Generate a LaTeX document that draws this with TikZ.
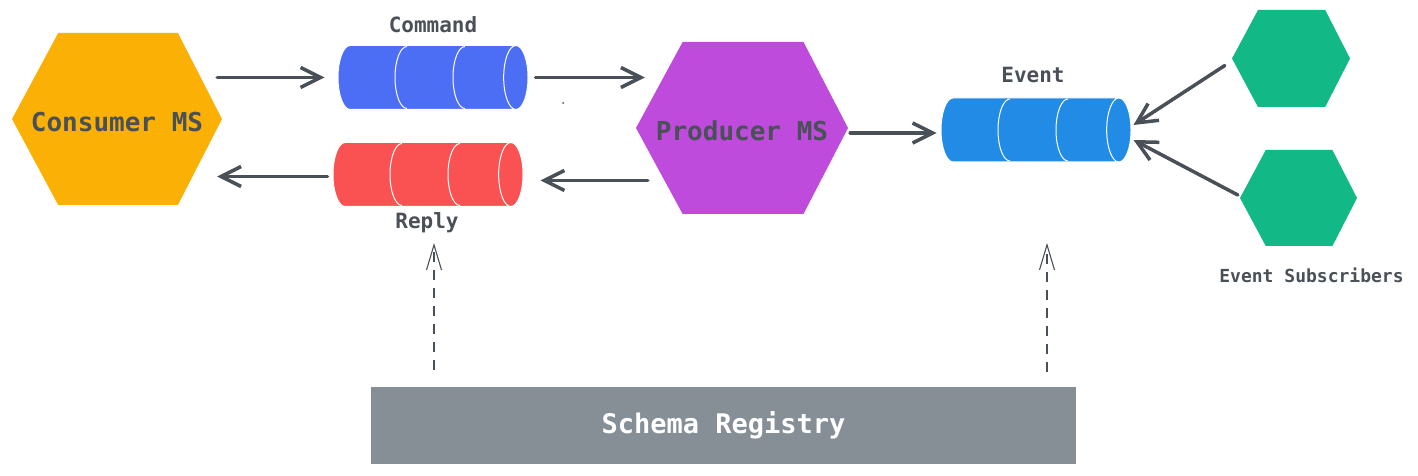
\documentclass[tikz,border=0pt]{standalone}
\usepackage{fontspec}
\newfontfamily\diagfont{DejaVu Sans Mono}
\usetikzlibrary{shapes.geometric, positioning, calc, arrows.meta}
\definecolor{msOrange}{HTML}{FAB005}
\definecolor{msGrape}{HTML}{BE4BDB}
\definecolor{msTeal}{HTML}{12B886}
\definecolor{qIndigo}{HTML}{4C6EF5}
\definecolor{qRed}{HTML}{FA5252}
\definecolor{qBlue}{HTML}{228BE6}
\definecolor{regGray}{HTML}{868E96}
\definecolor{inkGray}{HTML}{495057}
\tikzset{hexcol/.store in=\hexcol, hexcol=msOrange}

\begin{document}
\begin{tikzpicture}[
    x=1pt, y=1pt,
    hexa/.style={inner sep=0pt, text=inkGray, text height=25pt, font=\diagfont\bfseries\fontsize{26}{32}\selectfont,
      path picture={
        \fill[fill=\hexcol] (path picture bounding box.west)
          -- ($(path picture bounding box.north west)!0.22!(path picture bounding box.north east)$)
          -- ($(path picture bounding box.north west)!0.79!(path picture bounding box.north east)$)
          -- (path picture bounding box.east)
          -- ($(path picture bounding box.south west)!0.79!(path picture bounding box.south east)$)
          -- ($(path picture bounding box.south west)!0.22!(path picture bounding box.south east)$)
          -- cycle;}},
    queue/.style={cylinder, shape aspect=0.38, draw=white, line width=1pt, inner xsep=0pt, inner ysep=32pt, minimum height=190pt, anchor=shape center},
    seg/.style={draw=white, line width=1pt},
    qlabel/.style={inner sep=0pt, text=inkGray, font=\diagfont\bfseries\fontsize{21}{26}\selectfont},
    flow/.style={draw=inkGray, line width=3.5pt, line cap=round, -{Straight Barb[length=20pt,width=20pt]}},
    schemalink/.style={draw=inkGray, line width=1.1pt, dash pattern=on 10pt off 8pt, -{Straight Barb[length=25pt,width=15pt]}},
    registry/.style={fill=regGray, minimum width=705pt, minimum height=77pt, inner sep=0pt, text=white, font=\diagfont\bfseries\fontsize{27}{32}\selectfont}
  ]
  \useasboundingbox (0,0) rectangle (1418,476);

  % services
  \node[hexa, hexcol=msOrange, minimum width=210pt, minimum height=172pt] (cons) at (117,357) {Consumer MS};
  \node[hexa, hexcol=msGrape, minimum width=212pt, minimum height=172pt] (prod) at (742,348) {Producer MS};
  \node[hexa, hexcol=msTeal, minimum width=118pt, minimum height=97pt] (sub1) at (1291,417.5) {};
  \node[hexa, hexcol=msTeal, minimum width=117pt, minimum height=96pt] (sub2) at (1298.5,278) {};

  % queues
  \node[queue, fill=qIndigo] (cmd) at (433,398.5) {};
  \node[queue, fill=qRed] (reply) at (428,301.5) {};
  \node[queue, fill=qBlue] (evt) at (1036,346) {};
  \foreach \q in {cmd, reply, evt}
    \foreach \dx in {-26, 32}
      \draw[seg] ([xshift=\dx pt, yshift=31pt]\q.shape center) arc[start angle=90, end angle=270, x radius=12pt, y radius=31pt];

  \node[qlabel, anchor=south] (cmdlbl) at ($(cmd.shape center)+(0,44)$) {Command};
  \node[qlabel, anchor=north] (replylbl) at ($(reply.shape center)+(-1,-38)$) {Reply};
  \node[qlabel, anchor=south] (evtlbl) at ($(evt.shape center)+(-3,47)$) {Event};
  \node[qlabel, font=\diagfont\bfseries\fontsize{18}{22}\selectfont, below=21pt of sub2, xshift=13pt] (sublbl) {Event Subscribers};

  \node[registry] (reg) at (723.5,50.5) {Schema Registry};

  % connectors
  \draw[flow] ($(cons.east |- cmd.west)+(-5,0)$) -- ($(cmd.west)+(-13,0)$);
  \draw[flow] ($(cmd.east)+(7,0)$) -- ($(prod.west |- cmd.east)+(9,0)$);
  \draw[flow] ($(reply.west)+(-5,-2)$) -- ($(cons.east |- reply.west)+(-5,-2)$);
  \draw[flow] ($(prod.west |- reply.east)+(12,-6)$) -- ($(reply.east)+(17,-6)$);
  \draw[flow] ($(prod.east |- evt.west)+(2,-3)$) -- ($(evt.west)+(-4,-3)$);
  \draw[flow] ($(sub1.west)+(-7,-7)$) -- ($(evt.east)+(2,5)$);
  \draw[flow] ($(sub2.west)+(-2,3)$) -- ($(evt.east)+(2,-10)$);
  \draw[schemalink] ($(reg.north -| reply.shape center)+(6,17)$) -- ($(reply.shape center)+(6,-68.5)$);
  \draw[schemalink] ($(reg.north -| evt.shape center)+(11,15)$) -- ($(evt.shape center)+(11,-113)$);

  \fill[inkGray] (563,373) circle[radius=1pt];
\end{tikzpicture}
\end{document}
